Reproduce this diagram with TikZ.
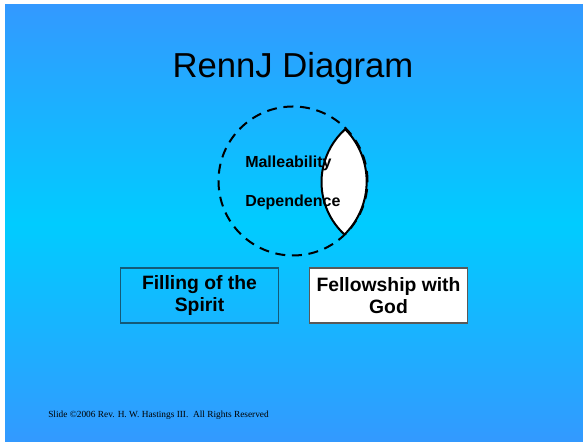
\documentclass[tikz,border=0pt]{standalone}
\usepackage{fontspec}
\setmainfont{Liberation Sans}
\newfontfamily\footfont{Liberation Serif}
\definecolor{slidetop}{RGB}{51,153,255}
\definecolor{slidemid}{RGB}{0,204,255}
\definecolor{boxline}{RGB}{20,90,120}

\begin{document}
\begin{tikzpicture}[x=0.75pt, y=0.75pt,
		label/.style={font=\fontsize{12}{14}\selectfont\bfseries, anchor=base west, inner sep=0},
		slidebox/.style={draw, line width=0.8pt, minimum width=158*0.75pt, minimum height=55*0.75pt, align=center, inner sep=0, font=\fontsize{14.5}{16.5}\selectfont\bfseries}]
		\useasboundingbox (0, 0) rectangle (583, 442);
		\fill[white] (0, 0) rectangle (583, 442);
		\shade[top color=slidetop, bottom color=slidetop, middle color=slidemid] (5, 0) rectangle (583, 437);
		
		\node (title) at (293, 373) {\fontsize{26}{30}\selectfont RennJ Diagram};
		
		\draw[line width=1.5pt, dash pattern=on 7.5pt off 5pt] (293, 261) circle (74.5);
		\filldraw[fill=white, line width=1.5pt] (345.3, 312.7) arc[start angle=44.5, end angle=-45.4, radius=74.5] arc[start angle=227.4, end angle=132.6, radius=71.1] -- cycle;
		
		\node[label] (malleability) at (245, 274.7) {Malleability};
		\node[label] (dependence) at (245, 235.3) {Dependence};
		
		\node[slidebox, draw=boxline] (filling) at (199.5, 146.5) {Filling of the\\ Spirit};
		\node[slidebox, fill=white, draw=gray!70!black] (fellowship) at (388.5, 146.5) {Fellowship with\\ God};
		
		\node[anchor=base west, inner sep=0] (footer) at (48, 24) {\footfont\fontsize{7}{8}\selectfont Slide \textcopyright 2006 Rev. H. W. Hastings III.\ \ All Rights Reserved};
	\end{tikzpicture}
\end{document}
